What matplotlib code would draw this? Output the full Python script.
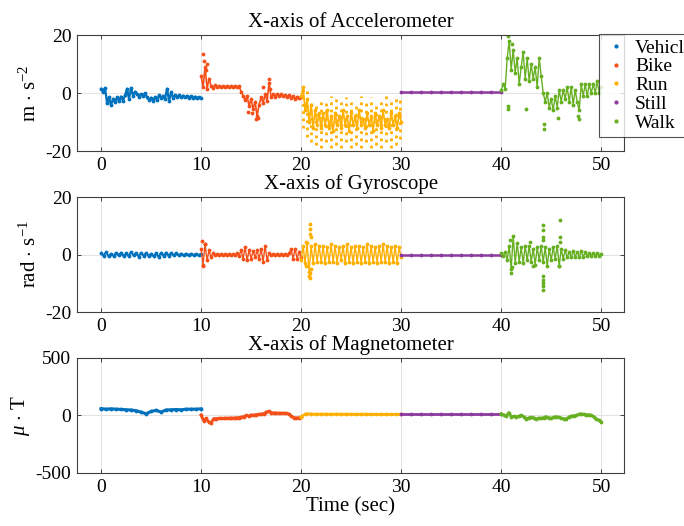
import numpy as np
import matplotlib
matplotlib.use("Agg")
import matplotlib.pyplot as plt
from matplotlib.lines import Line2D

plt.rcParams['font.family'] = ['Liberation Serif', 'DejaVu Serif']
plt.rcParams['mathtext.fontset'] = 'custom'
plt.rcParams['mathtext.rm'] = 'Liberation Serif'
plt.rcParams['mathtext.it'] = 'Liberation Serif:italic'
plt.rcParams['axes.unicode_minus'] = False

activities = ["Vehicle", "Bike", "Run", "Still", "Walk"]
colors = ["#0072BD", "#F5501A", "#FFB000", "#8E3A9E", "#66B022"]
spans = [(0, 10), (10, 20), (20, 30), (30, 40), (40, 50)]

# ---- accelerometer (m/s^2) ----
acc_vehicle = [1.5, 0.5, 1.8, -3.5, -1.5, -4.2, -2.0, -3.2, -1.5, -2.8, -1.2, -2.6, -0.8,
               1.5, -2.0, 1.8, -1.0, 0.5, -0.5, -1.2, -0.3, -1.0, 0.0, -1.5, -2.4, -1.6,
               -2.6, -1.5, -2.4, -0.8, -1.8, -1.0, -2.0, 1.5, -2.8, 0.2, -1.6, -0.6, -1.4,
               -0.8, -1.4, -0.9, -1.5, -1.0, -1.6, -1.1, -1.7, -1.2, -1.8, -1.4, -1.8]
acc_bike = [6, 2, 9, 1.5, 5, 2.5, 1.8, 2.6, 2.0, 2.5, 2.0, 2.4, 2.0, 2.5, 2.0, 2.4, 2.0,
            2.5, 2.1, 2.4, 0.5, -1.0, -2.5, -1.0, -4.5, -2.0, -5.5, -3.0, -8.0, -4.0,
            -1.5, -3.5, -0.5, -2.8, 3.5, -1.5, -0.5, -1.2, -0.4, -1.0, -0.5, -1.1, -0.6,
            -1.2, -0.8, -1.8, -1.0, -2.0, -1.2, -1.8, -1.5]
acc_run = [-1, 2, -6, -2, -10, -4, -12, -6, -11, -7, -12, -7, -11, -6, -12, -8, -13, -7,
           -11, -8, -12, -6, -11, -8, -13, -7, -11, -8, -12, -6, -11, -9, -12, -7, -11,
           -8, -13, -7, -11, -8, -12, -6, -11, -9, -12, -7, -11, -8, -12, -7, -10]
acc_still = [0.2, 0.2, 0.2, 0.2, 0.2, 0.2, 0.2, 0.2, 0.2, 0.2, 0.2]
acc_walk = [1, 3, 1.5, 12, 18, 8, 15, 7, 12, 3, 9, 14, 5, 12, 4, 10, 5, 9, 2, 12, 6, 0,
            -3, 0, -5, -2, -6, -1, -5, 1, -3, 1, -2, 2, -3, 2, -4, 1, -3, -6, 3, -1, 3,
            -1, 3, 0, 3, 0, 4, 0, 2]

acc_bike_extra_t = [10.2, 10.3, 10.5, 10.6, 14.7, 15.1, 15.5, 15.7, 16.2, 16.8, 16.9]
acc_bike_extra_y = [13.5, 11, 8, 10, -6.5, -7, -9, -8.5, 2, 5, 1.5]
acc_walk_extra_t = [40.7, 40.7, 42.5, 44.3, 44.3, 45.7, 47.7, 47.8, 40.7, 41.1]
acc_walk_extra_y = [-4.5, -5.5, -5.4, -10.7, -12.4, -8.6, -7.9, -9, 19.5, 17]

run_streak_t = [20.2, 20.6, 21.0, 21.5, 22.0, 22.5, 23.0, 23.5, 24.0, 24.5, 25.0, 25.5,
                26.0, 26.5, 27.0, 27.5, 28.0, 28.5, 29.0, 29.5, 29.9]
run_streak_top = [2.5, 1, -2, -3, -2, -3, -1, -2, -3, -1.5, -2, -3, -1, -2.5, -1.5, -3,
                  -2, -1, -2.5, -1.5, -2]
run_streak_bottom = [-12, -15, -17, -18, -19, -17, -19, -18, -19, -17, -19, -18, -19,
                     -17, -19, -18, -19, -17, -19, -18, -16]

# ---- gyroscope (rad/s) ----
gyr_vehicle = [0.5, -0.4, 0.8, -0.6, 0.3, -0.5, 0.6, -0.3, 0.7, -0.6, 0.4, -0.5, 0.9,
               -0.3, 0.5, -0.7, 0.6, -0.4, 0.5, -0.5, 0.3, -0.6, 0.4, -0.8, 0.6, -0.5,
               0.7, -0.4, 0.5, -0.3, 0.4, -0.3, 0.3, -0.2, 0.3, -0.2, 0.3, -0.2, 0.2,
               -0.2, 0.2]
gyr_bike = [2, -3.5, 3.5, -2, 1.5, -1, 0.5, -0.3, 0.3, -0.3, 0.3, -0.3, 0.3, -0.3, 0.3,
            -0.3, 0.3, -0.3, 0.5, -0.5, 1.5, -1.5, 2.5, -2, 1.5, -1.5, 1.2, -1, 1.5,
            -1.5, 2, -2.5, 3, -2, 0.5, -0.3, 0.3, -0.3, 0.3, -0.3, 0.3, -0.3, 0.3, -0.3,
            0.5, 2, -1.5, 2, -1.5, 1, -1]
gyr_run = [-2, 3, -3, 4, -6, 3, -3, 3.5, -2.5, 3, -2.5, 3, -3, 2.5, -2.5, 3.5, -2.5, 3,
           -3, 2.5, -2, 3, -3, 3.5, -2.5, 2.5, -3, 3, -2.5, 3, -3, 2.5, -2.5, 3.5, -3, 3,
           -2.5, 2.5, -3, 3, -2.5, 3.5, -2.5, 3, -3, 2.5, -2.5, 3, -3, 2.5, -1]
gyr_still = [0, 0, 0, 0, 0, 0, 0, 0, 0, 0, 0]
gyr_walk = [0.5, -0.5, 1, -2, 3, -5, 6.5, -3, 4, -2.5, 2.5, -3, 3, -2, 3, -2.5, 2, -3.5,
            2.5, -2, 3, -2.5, 2.5, -4, 2, -2, 2.5, -1.5, 3, -4, 2, -1.5, 1.5, -1, 1, -1,
            1.2, -0.8, 1, -1, 1.2, -0.8, 0.8, -0.6, 0.6, -0.5, 0.6, -0.4, 0.5, -0.4, 0.3]

gyr_bike_extra_t = [10.1, 10.2, 10.4]
gyr_bike_extra_y = [4.8, -4, 3.8]
gyr_run_extra_t = [20.9, 20.9, 20.85, 20.95, 20.9, 20.85, 20.75, 21.0, 20.5, 20.5]
gyr_run_extra_y = [10.5, 9, 7, -5, -6.5, -8, -7.5, 6, -4, 4.5]
gyr_walk_extra_t = [41.0, 41.05, 40.9, 42.9, 44.2, 44.2, 44.2, 44.2, 44.2, 44.2, 44.2,
                    44.2, 44.2, 45.9, 45.9, 45.9, 45.8, 43.2]
gyr_walk_extra_y = [-6.5, -4.5, 5, 4.5, 10.3, 8.5, 6, 5, -7.4, -8.9, -10, -10.8, -12.5,
                    12, 6, 4.5, -4, -4]

# ---- magnetometer (uT) ----
mag_vehicle = [60, 55, 58, 55, 53, 50, 48, 42, 30, 15, 35, 45, 30, 48, 50, 52, 50, 55,
               55, 55, 58]
mag_bike = [5, -45, -25, -55, -65, -28, -27, -26, -25, -25, -24, -23, -22, -22, -20, -18,
            -15, -10, 0, -5, 5, 3, 8, 10, 12, 15, 30, 35, 25, 22, 22, 20, 20, 20, 18, 15,
            -5, -18, -20, -20, -15]
mag_run = [-10, 15, 12, 10, 12, 11, 10, 12, 10, 11, 10, 10, 11, 10, 10, 9, 10, 9, 10, 9, 10]
mag_still = [14, 14, 14, 14, 14, 14, 14, 14, 14, 14, 14]
mag_walk = [15, 5, -5, 25, -10, -8, -12, -5, 0, -10, -30, -20, -15, -20, -30, -22, -25,
            -18, -10, -20, -25, -15, -10, -15, -25, -28, -30, -15, -5, -2, 0, 10, 15, 10,
            5, 8, 0, -10, -30, -40, -55]

acc_data = [acc_vehicle, acc_bike, acc_run, acc_still, acc_walk]
gyr_data = [gyr_vehicle, gyr_bike, gyr_run, gyr_still, gyr_walk]
mag_data = [mag_vehicle, mag_bike, mag_run, mag_still, mag_walk]


def draw_segments(ax, data, lws):
    for vals, (t0, t1), c, lw in zip(data, spans, colors, lws):
        t = np.linspace(t0, t1, len(vals))
        ax.plot(t, vals, '.-', color=c, lw=lw, ms=3.5)


def style(ax, title, ylabel, ylim, yticks):
    ax.set_xlim(-2.4, 52.3)
    ax.set_ylim(*ylim)
    ax.set_yticks(yticks)
    ax.set_xticks([0, 10, 20, 30, 40, 50])
    ax.grid(True, color='#E3E3E3', lw=0.7)
    ax.set_axisbelow(True)
    ax.tick_params(direction='in', top=True, right=True, labelsize=14,
                   length=3, width=0.7, color='#404040', pad=4)
    for s in ax.spines.values():
        s.set_color('#404040')
        s.set_linewidth(0.8)
    ax.set_title(title, fontsize=15, pad=6)
    ax.set_ylabel(ylabel, fontsize=15, labelpad=3)


fig = plt.figure(figsize=(6.84, 5.26), dpi=100)
ax1 = fig.add_axes([0.1126, 0.7129, 0.800, 0.2205])
ax2 = fig.add_axes([0.1126, 0.4068, 0.800, 0.2186])
ax3 = fig.add_axes([0.1126, 0.1008, 0.800, 0.2186])

# accelerometer
draw_segments(ax1, acc_data, [1.6, 1.2, 1.2, 1.8, 1.0])
ax1.vlines(run_streak_t, run_streak_bottom, run_streak_top, colors=colors[2],
           lw=2.0, linestyles=(0, (1, 1.6)))
ax1.plot(acc_bike_extra_t, acc_bike_extra_y, '.', color=colors[1], ms=3.5)
ax1.plot(acc_walk_extra_t, acc_walk_extra_y, '.', color=colors[4], ms=3.5)
style(ax1, "X-axis of Accelerometer", r"m $\cdot$ s$^{-2}$", (-20, 20), [-20, 0, 20])

# gyroscope
draw_segments(ax2, gyr_data, [1.4, 1.0, 1.0, 1.8, 1.0])
ax2.plot(gyr_bike_extra_t, gyr_bike_extra_y, '.', color=colors[1], ms=3.5)
ax2.plot(gyr_run_extra_t, gyr_run_extra_y, '.', color=colors[2], ms=3.5)
ax2.plot(gyr_walk_extra_t, gyr_walk_extra_y, '.', color=colors[4], ms=3.5)
style(ax2, "X-axis of Gyroscope", r"rad $\cdot$ s$^{-1}$", (-20, 20), [-20, 0, 20])

# magnetometer
draw_segments(ax3, mag_data, [2.2, 2.0, 2.0, 2.0, 2.0])
style(ax3, "X-axis of Magnetometer", r"$\mu$ $\cdot$ T", (-500, 500), [-500, 0, 500])
ax3.set_xlabel("Time (sec)", fontsize=15, labelpad=1)

handles = [Line2D([], [], ls='none', marker='.', ms=4, color=c) for c in colors]
leg = fig.legend(handles, activities, loc='upper left', bbox_to_anchor=(0.876, 0.935),
                 bbox_transform=fig.transFigure, fontsize=14, frameon=True,
                 fancybox=False, edgecolor='#262626', handlelength=1.2,
                 handletextpad=0.4, labelspacing=0.06, borderpad=0.25,
                 borderaxespad=0)
leg.get_frame().set_linewidth(0.8)

fig.savefig("out.png", dpi=100)
